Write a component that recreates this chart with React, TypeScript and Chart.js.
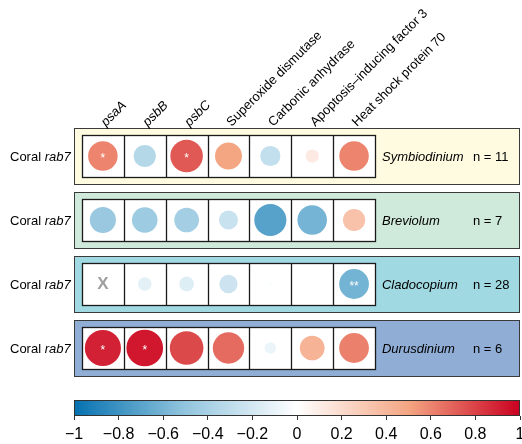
import React, { useEffect, useRef } from 'react';
import { Chart, registerables } from 'chart.js';
Chart.register(...registerables);

const genes = ['psaA', 'psbB', 'psbC', 'Superoxide dismutase', 'Carbonic anhydrase', 'Apoptosis\u2013inducing factor 3', 'Heat shock protein 70'];
const italicGenes = [true, true, true, false, false, false, false];
const symbionts = ['Symbiodinium', 'Breviolum', 'Cladocopium', 'Durusdinium'];
const sampleSizes = [11, 7, 28, 6];
const rowLabelPlain = 'Coral ';
const rowLabelItalic = 'rab7';

const symbiodiniumR: (number | null)[] = [0.6, -0.34, 0.73, 0.5, -0.28, 0.12, 0.6];
const breviolumR: (number | null)[] = [-0.47, -0.45, -0.42, -0.25, -0.71, -0.6, 0.34];
const cladocopiumR: (number | null)[] = [null, -0.13, -0.15, -0.23, -0.02, 0.004, -0.61];
const durusdiniumR: (number | null)[] = [0.9, 0.93, 0.78, 0.68, -0.09, 0.42, 0.61];

const symbiodiniumSig = ['*', '', '*', '', '', '', ''];
const breviolumSig = ['', '', '', '', '', '', ''];
const cladocopiumSig = ['', '', '', '', '', '', '**'];
const durusdiniumSig = ['*', '*', '', '', '', '', ''];

const rowValues = [symbiodiniumR, breviolumR, cladocopiumR, durusdiniumR];
const rowSig = [symbiodiniumSig, breviolumSig, cladocopiumSig, durusdiniumSig];

const colorbarTicksMin = -1;
const colorbarTicksMax = 1;
const colorbarStep = 0.2;

// styles / layout constants
const panelColors = ['#fefbe0', '#cfe9da', '#a0d9e1', '#8fadd5'];
const paletteStops: [number, string][] = [
  [-1, '#0571b0'],
  [-0.5, '#92c5de'],
  [0, '#ffffff'],
  [0.5, '#f4a582'],
  [1, '#ca0020'],
];
const X_MIN = -0.69;
const X_MAX = 9.964;
const Y_MIN = -0.875;
const Y_MAX = 4.0625;
const PANEL_HALF = 0.43;
const CELL_HALF = 0.328;
const CB_TOP = 3.8125;
const NAME_X = 6.667;
const N_X = 8.84;
const FONT = '"Liberation Sans", Arial, Helvetica, sans-serif';

function hexToRgb(h: string) {
  const n = parseInt(h.slice(1), 16);
  return [(n >> 16) & 255, (n >> 8) & 255, n & 255];
}
function colorFor(v: number) {
  const c = Math.max(-1, Math.min(1, v));
  for (let i = 0; i < paletteStops.length - 1; i++) {
    const [a, ca] = paletteStops[i];
    const [b, cbb] = paletteStops[i + 1];
    if (c >= a && c <= b) {
      const t = (c - a) / (b - a);
      const p = hexToRgb(ca), q = hexToRgb(cbb);
      const r = p.map((x, k) => Math.round(x + (q[k] - x) * t));
      return `rgb(${r[0]},${r[1]},${r[2]})`;
    }
  }
  return '#fff';
}

const points: { x: number; y: number; v: number }[] = [];
rowValues.forEach((row, r) => {
  row.forEach((v, i) => {
    if (v !== null) points.push({ x: i, y: r, v });
  });
});

const panelPlugin = {
  id: 'corrPanels',
  beforeDatasetsDraw(chart: any) {
    const { ctx, chartArea, scales } = chart;
    const x = scales.x, y = scales.y, cb = scales.cb;
    ctx.save();
    symbionts.forEach((_, r) => {
      const top = Math.round(y.getPixelForValue(r - PANEL_HALF)) + 0.5;
      const bot = Math.round(y.getPixelForValue(r + PANEL_HALF)) + 0.5;
      const left = chartArea.left + 0.5;
      const right = chartArea.right - 0.5;
      ctx.fillStyle = panelColors[r];
      ctx.fillRect(left, top, right - left, bot - top);
      ctx.strokeStyle = '#3a3a3a';
      ctx.lineWidth = 1;
      ctx.strokeRect(left, top, right - left, bot - top);
      const ct = Math.round(y.getPixelForValue(r - CELL_HALF)) + 0.5;
      const cbt = Math.round(y.getPixelForValue(r + CELL_HALF)) + 0.5;
      const cl = Math.round(x.getPixelForValue(-0.5)) + 0.5;
      const cr = Math.round(x.getPixelForValue(genes.length - 0.5)) + 0.5;
      ctx.fillStyle = '#ffffff';
      ctx.fillRect(cl, ct, cr - cl, cbt - ct);
      ctx.strokeStyle = '#1a1a1a';
      ctx.lineWidth = 1.3;
      ctx.strokeRect(cl, ct, cr - cl, cbt - ct);
      for (let i = 1; i < genes.length; i++) {
        const gx = Math.round(x.getPixelForValue(i - 0.5)) + 0.5;
        ctx.beginPath();
        ctx.moveTo(gx, ct);
        ctx.lineTo(gx, cbt);
        ctx.stroke();
      }
    });
    // colorbar
    const x0 = cb.getPixelForValue(colorbarTicksMin);
    const x1 = cb.getPixelForValue(colorbarTicksMax);
    const yt = Math.round(y.getPixelForValue(CB_TOP)) + 0.5;
    const yb = chartArea.bottom - 0.5;
    const grad = ctx.createLinearGradient(x0, 0, x1, 0);
    paletteStops.forEach(([v, c]) => grad.addColorStop((v + 1) / 2, c));
    ctx.fillStyle = grad;
    ctx.fillRect(x0, yt, x1 - x0, yb - yt);
    ctx.strokeStyle = '#333';
    ctx.lineWidth = 1;
    ctx.strokeRect(Math.round(x0) + 0.5, yt, Math.round(x1) - Math.round(x0) - 1, yb - yt);
    ctx.restore();
  },
  afterDatasetsDraw(chart: any) {
    const { ctx, scales } = chart;
    const x = scales.x, y = scales.y;
    ctx.save();
    // column labels
    genes.forEach((g, i) => {
      const px = x.getPixelForValue(i) + 3;
      const py = y.getPixelForValue(-PANEL_HALF) - 1.5;
      ctx.save();
      ctx.translate(px, py);
      ctx.rotate(-Math.PI / 4);
      ctx.font = `${italicGenes[i] ? 'italic ' : ''}13px ${FONT}`;
      ctx.fillStyle = '#000';
      ctx.textAlign = 'left';
      ctx.textBaseline = 'alphabetic';
      ctx.fillText(g, 0, 0);
      ctx.restore();
    });
    symbionts.forEach((name, r) => {
      const cy = y.getPixelForValue(r);
      // row label
      ctx.fillStyle = '#000';
      ctx.textAlign = 'left';
      ctx.textBaseline = 'alphabetic';
      ctx.font = `13px ${FONT}`;
      ctx.fillText(rowLabelPlain, 10, cy + 4.7);
      const w = ctx.measureText(rowLabelPlain).width;
      ctx.font = `italic 13px ${FONT}`;
      ctx.fillText(rowLabelItalic, 10 + w, cy + 4.7);
      // symbiont name
      ctx.font = `italic 13px ${FONT}`;
      ctx.fillText(name, x.getPixelForValue(NAME_X), cy + 4.7);
      ctx.font = `13px ${FONT}`;
      ctx.fillText(`n = ${sampleSizes[r]}`, x.getPixelForValue(N_X), cy + 4.7);
      // significance / NA
      rowValues[r].forEach((v, i) => {
        const px = x.getPixelForValue(i);
        if (v === null) {
          ctx.font = `bold 17px ${FONT}`;
          ctx.fillStyle = '#a0a0a0';
          ctx.textAlign = 'center';
          ctx.textBaseline = 'middle';
          ctx.fillText('X', px, cy + 0.5);
        } else if (rowSig[r][i]) {
          ctx.font = `12px ${FONT}`;
          ctx.fillStyle = '#ffffff';
          ctx.textAlign = 'center';
          ctx.textBaseline = 'middle';
          ctx.fillText(rowSig[r][i], px, cy + 3);
        }
      });
    });
    ctx.restore();
  },
};

export default function App() {
  const ref = useRef<HTMLCanvasElement>(null);
  useEffect(() => {
    document.body.style.margin = '0';
    const canvas = ref.current!;
    const chart = new Chart(canvas, {
      type: 'scatter',
      data: {
        datasets: [
          {
            data: points as any,
            xAxisID: 'x',
            yAxisID: 'y',
            pointRadius: (c: any) => {
              const p = c.raw;
              if (!p) return 0;
              const xs = c.chart.scales.x;
              const cw = xs.getPixelForValue(1) - xs.getPixelForValue(0);
              return 0.455 * cw * Math.sqrt(Math.abs(p.v));
            },
            pointBackgroundColor: (c: any) => (c.raw ? colorFor(c.raw.v) : '#fff'),
            pointBorderWidth: 0,
            pointBorderColor: 'rgba(0,0,0,0)',
            pointHoverRadius: 0,
          } as any,
        ],
      },
      options: {
        responsive: false,
        devicePixelRatio: 1,
        animation: false,
        events: [],
        layout: { padding: { left: 74, right: 2, top: 100, bottom: 0 } },
        plugins: { legend: { display: false }, tooltip: { enabled: false } },
        scales: {
          x: { type: 'linear', min: X_MIN, max: X_MAX, display: false },
          y: { type: 'linear', min: Y_MIN, max: Y_MAX, reverse: true, display: false },
          cb: {
            type: 'linear',
            axis: 'x',
            position: 'bottom',
            min: colorbarTicksMin,
            max: colorbarTicksMax,
            afterFit: (s: any) => {
              s.height = 28;
              s.paddingLeft = 0;
              s.paddingRight = 0;
            },
            border: { display: false },
            grid: { drawOnChartArea: false, tickLength: 4, color: '#333', lineWidth: 1 },
            ticks: {
              stepSize: colorbarStep,
              autoSkip: false,
              maxRotation: 0,
              padding: 5,
              color: '#000',
              font: { family: FONT, size: 16 },
              callback: (v: any) => {
                const r = Math.round(Number(v) * 10) / 10;
                if (r === 0) return '0';
                return r < 0 ? '\u2212' + String(Math.abs(r)) : String(r);
              },
            },
          } as any,
        },
      },
      plugins: [panelPlugin],
    });
    return () => chart.destroy();
  }, []);
  return <canvas ref={ref} width={522} height={444} style={{ display: 'block' }} />;
}
